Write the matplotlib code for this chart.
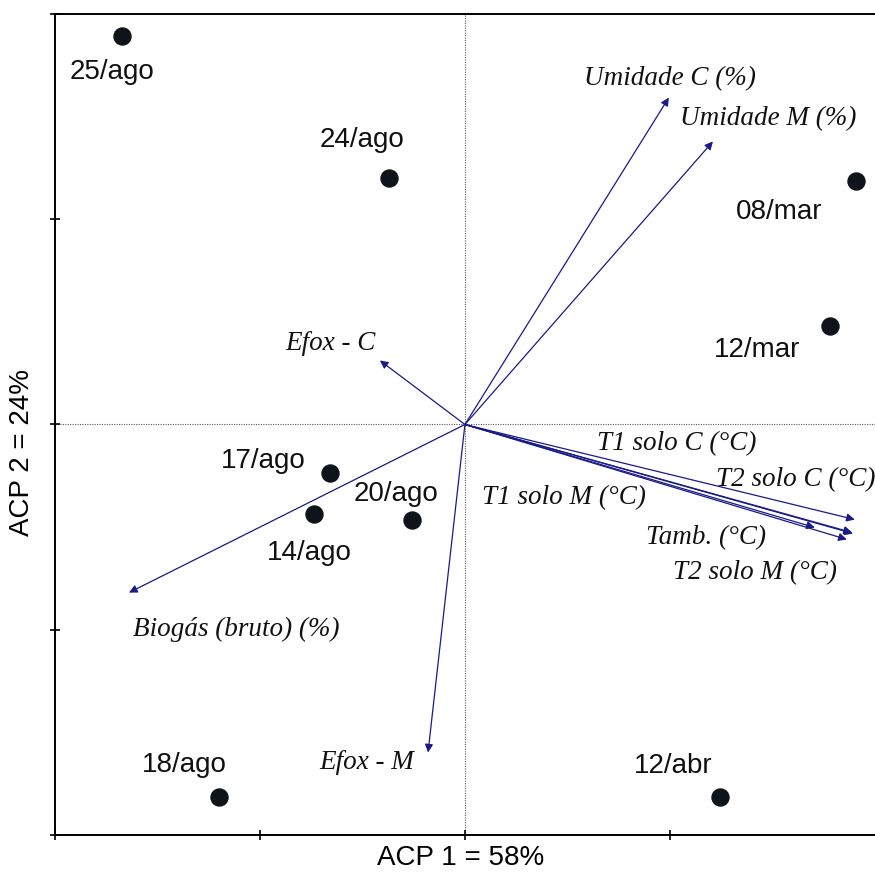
import matplotlib
matplotlib.use("Agg")
import matplotlib.pyplot as plt

# Sample scores (ACP 1, ACP 2)
dates = ["25/ago", "24/ago", "08/mar", "12/mar", "17/ago", "20/ago", "14/ago", "18/ago", "12/abr"]
score_x = [-1.673, -0.371, 1.907, 1.780, -0.659, -0.259, -0.737, -1.200, 1.244]
score_y = [1.895, 1.203, 1.184, 0.482, -0.234, -0.463, -0.434, -1.817, -1.817]

# Variable loadings (arrows)
variables = ["Umidade C (%)", "Umidade M (%)", "Efox - C", "Biogás (bruto) (%)", "Efox - M",
             "T2 solo C (°C)", "T1 solo C (°C)", "Tamb. (°C)", "T2 solo M (°C)", "T1 solo M (°C)"]
load_x = [0.995, 1.210, -0.415, -1.639, -0.180, 1.902, 1.893, 1.888, 1.863, 1.707]
load_y = [1.593, 1.379, 0.312, -0.819, -1.598, -0.463, -0.531, -0.526, -0.560, -0.502]

# Label placements
date_label_pos = [(-1.722, 1.715), (-0.502, 1.384), (1.532, 1.033), (1.424, 0.365), (-0.985, -0.180),
                  (-0.337, -0.341), (-0.761, -0.624), (-1.371, -1.661), (1.015, -1.666)]
var_label_pos = [(1.000, 1.686), (1.478, 1.491), (-0.654, 0.395), (-1.117, -0.999), (-0.478, -1.647),
                 (1.615, -0.268), (1.034, -0.093), (1.176, -0.551), (1.415, -0.721), (0.483, -0.356)]

fig = plt.figure(figsize=(8.75, 8.72), dpi=100)
ax = fig.add_axes([55/875, 37/872, 826/875, 821/872])
ax.set_xlim(-2.0, 2.03)
ax.set_ylim(-2.0, 2.0)

ax.axhline(0, color="0.35", lw=0.8, ls=(0, (1, 1.2)), zorder=1)
ax.axvline(0, color="0.35", lw=0.8, ls=(0, (1, 1.2)), zorder=1)

arrow_color = "#1a1a88"
for vx, vy in zip(load_x, load_y):
    ax.annotate("", xy=(vx, vy), xytext=(0, 0),
                arrowprops=dict(arrowstyle="-|>", color=arrow_color, lw=0.9,
                                mutation_scale=12, shrinkA=0, shrinkB=0), zorder=2)

ax.scatter(score_x, score_y, s=150, color="#0f131a", zorder=3)

for name, (lx, ly) in zip(dates, date_label_pos):
    ax.text(lx, ly, name, fontsize=20, family="Liberation Sans", ha="center", va="center", color="#111111")

for name, (lx, ly) in zip(variables, var_label_pos):
    ax.text(lx, ly, name, fontsize=19.5, family="Liberation Serif", style="italic",
            ha="center", va="center", color="#111111")

ax.set_xticks([-2, -1, 0, 1])
ax.set_yticks([-2, -1, 0, 1, 2])
ax.set_xticklabels([])
ax.set_yticklabels([])
ax.tick_params(direction="inout", length=7, width=1.2, color="black")
for side in ["left", "bottom", "top", "right"]:
    ax.spines[side].set_linewidth(1.4)

fig.text(461/875, 1 - 858/872, "ACP 1 = 58%", fontsize=20, family="Liberation Sans", ha="center", va="center")
fig.text(22/875, 1 - 452/872, "ACP 2 = 24%", fontsize=20, family="Liberation Sans", ha="center", va="center",
         rotation=90)

fig.savefig("out.png", dpi=100)
